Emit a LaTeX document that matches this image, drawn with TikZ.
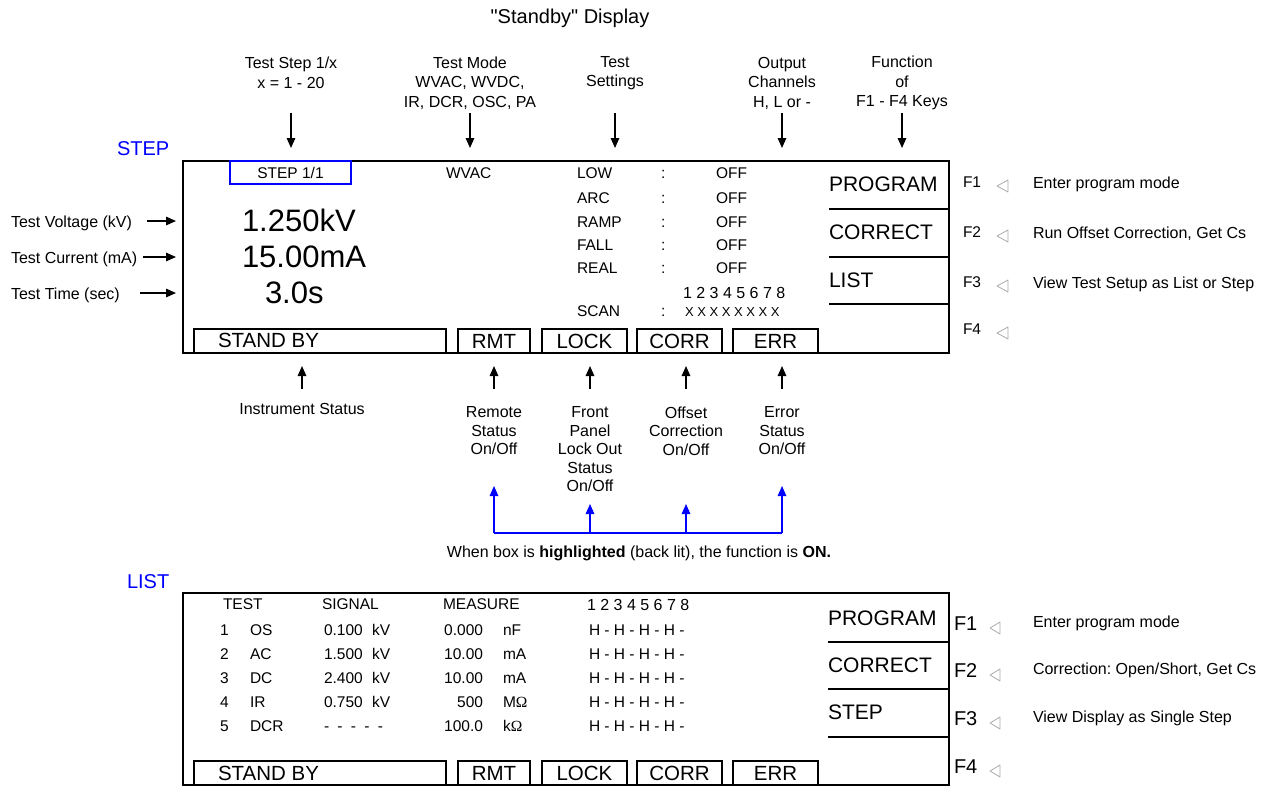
\documentclass[tikz,border=0pt]{standalone}
\usepackage{fontspec}
\setmainfont{Liberation Sans}
\newfontfamily\omfont{Liberation Serif}
\usetikzlibrary{arrows.meta}
\definecolor{pureblue}{RGB}{0,0,255}
\definecolor{trigray}{RGB}{170,170,170}
\newcommand\sq{\XeTeXglyph\XeTeXcharglyph"22\relax}
\frenchspacing
\begin{document}
\begin{tikzpicture}[x=1pt,y=-1pt,
  every node/.style={inner sep=0pt,outer sep=0pt},
  small/.style={font=\fontsize{16}{19.5}\selectfont,align=center},
  smallb/.style={font=\fontsize{16}{18.5}\selectfont,align=center},
  disp/.style={font=\fontsize{15.5}{18}\selectfont},
  digs/.style={font=\fontsize{16}{18}\selectfont},
  xs/.style={font=\fontsize{13}{15}\selectfont},
  big/.style={font=\fontsize{31}{36}\selectfont},
  keytxt/.style={font=\fontsize{21}{25}\selectfont},
  stat/.style={font=\fontsize{20.5}{24}\selectfont},
  headtxt/.style={font=\fontsize{20}{24}\selectfont,text=pureblue},
  fkey/.style={font=\fontsize{15.5}{18}\selectfont},
  fkeyb/.style={font=\fontsize{20}{24}\selectfont},
  frame/.style={draw,line width=1.6pt},
  sbox/.style={draw,line width=1.4pt,minimum height=24pt,anchor=north west},
  arr/.style={line width=1.5pt,-{Triangle[length=10pt,width=8.5pt]}},
  barr/.style={arr,draw=pureblue},
  tri/.style={draw=trigray,line width=0.8pt,line join=round}
]
\useasboundingbox (0,0) rectangle (1268,787);

% ---------- title and top labels ----------
\node[font=\fontsize{20}{24}\selectfont] (title) at (570,18) {\sq Standby\sq{} Display};
\node[small] (lStep) at (291,73) {Test Step 1/x\\x = 1 - 20};
\node[small] (lMode) at (470,83) {Test Mode\\WVAC, WVDC,\\IR, DCR, OSC, PA};
\node[small] (lSet)  at (615,73) {Test\\Settings};
\node[small] (lOut)  at (782,83) {Output\\Channels\\H, L or -};
\node[small] (lFun)  at (902,83) {Function\\of\\F1 - F4 Keys};
\foreach \i/\x in {1/291,2/470,3/615,4/782,5/902}{
  \coordinate (dt\i) at (\x,113);
  \coordinate (dh\i) at (\x,148);
  \draw[arr] (dt\i) -- (dh\i);
}

% ---------- STEP display ----------
\node[headtxt,anchor=base west] (hStep) at (117,155) {STEP};
\node[frame,anchor=north west,minimum width=766pt,minimum height=192pt] (stepdisp) at (183,161) {};
\node[draw=pureblue,line width=1.5pt,anchor=north west,minimum width=121pt,minimum height=23pt] (stepbox) at (230,161) {};
\node[disp,anchor=base] (stepnum) at (290.5,178) {STEP 1/1};

\node[small,anchor=base west] (lV) at (11,227) {Test Voltage (kV)};
\node[small,anchor=base west] (lC) at (11,263) {Test Current (mA)};
\node[small,anchor=base west] (lT) at (11,299) {Test Time (sec)};
\coordinate (aVt) at (147,221); \coordinate (aVh) at (176,221);
\coordinate (aCt) at (143,257); \coordinate (aCh) at (176,257);
\coordinate (aTt) at (140,293); \coordinate (aTh) at (176,293);
\draw[arr] (aVt) -- (aVh);
\draw[arr] (aCt) -- (aCh);
\draw[arr] (aTt) -- (aTh);

\node[big,anchor=base west] (vV) at (242,231) {1.250kV};
\node[big,anchor=base west] (vC) at (242,267) {15.00mA};
\node[big,anchor=base west] (vT) at (265,303) {3.0s};

\node[disp,anchor=base west] (mode) at (446,178) {WVAC};
\foreach \i/\n/\y in {1/LOW/178,2/ARC/203,3/RAMP/227,4/FALL/250,5/REAL/273}{
  \node[disp,anchor=base west] (sn\i) at (577,\y) {\n};
  \node[disp,anchor=base west] (sc\i) at (661,\y) {:};
  \node[disp,anchor=base west] (sv\i) at (716,\y) {OFF};
}
\node[digs,anchor=base west] (chn) at (683,298) {1 2 3 4 5 6 7 8};
\node[disp,anchor=base west] (scan) at (577,316) {SCAN};
\node[disp,anchor=base west] (scanc) at (661,316) {:};
\node[xs,anchor=base west] (scanx) at (685,316) {X X X X X X X X};

% key column (STEP)
\node[keytxt,anchor=base west] (kP1) at (829,191) {PROGRAM};
\node[keytxt,anchor=base west] (kC1) at (829,239) {CORRECT};
\node[keytxt,anchor=base west] (kL1) at (829,287) {LIST};
\foreach \y in {209,257,304}{ \draw[line width=1.6pt] (829,\y) -- (949,\y); }

% F keys (STEP)
\foreach \i/\y/\d in {1/187/Enter program mode,2/237/{Run Offset Correction, Get Cs},3/287/View Test Setup as List or Step,4/334/{}}{
  \node[fkey,anchor=base west] (uf\i) at (963,\y) {F\i};
  \draw[tri] (1008,\y-7) -- (997,\y-1) -- (1008,\y+5) -- cycle;
  \node[small,anchor=base west] (ud\i) at (1033,\y+1) {\d};
}

% status boxes (STEP)
\node[sbox,minimum width=252pt] (u1) at (194,329) {};
\node[stat,anchor=base west] (u1t) at (218,347) {STAND BY};
\node[sbox,stat,minimum width=72pt] (u2) at (458,329) {RMT};
\node[sbox,stat,minimum width=85pt] (u3) at (542,329) {LOCK};
\node[sbox,stat,minimum width=85pt] (u4) at (637,329) {CORR};
\node[sbox,stat,minimum width=85pt] (u5) at (733,329) {ERR};

% arrows up and labels
\foreach \i/\x in {1/302,2/494,3/590,4/686,5/782}{
  \coordinate (ut\i) at (\x,389);
  \coordinate (uh\i) at (\x,366);
  \draw[arr] (ut\i) -- (uh\i);
}
\node[small] (bI) at (302,409) {Instrument Status};
\node[smallb] (bR) at (494,431) {Remote\\Status\\On/Off};
\node[smallb] (bF) at (590,449.5) {Front\\Panel\\Lock Out\\Status\\On/Off};
\node[smallb] (bO) at (686,431) {Offset\\Correction\\On/Off};
\node[smallb] (bE) at (782,431) {Error\\Status\\On/Off};

% blue bracket
\coordinate (q1) at (494,533); \coordinate (q2) at (590,533);
\coordinate (q3) at (686,533); \coordinate (q4) at (782,533);
\coordinate (p1) at (494,486); \coordinate (p2) at (590,504);
\coordinate (p3) at (686,504); \coordinate (p4) at (782,486);
\draw[pureblue,line width=1.5pt] (q1) -- (q4);
\draw[barr] (q1) -- (p1);
\draw[barr] (q2) -- (p2);
\draw[barr] (q3) -- (p3);
\draw[barr] (q4) -- (p4);
\node[small,anchor=base] (note) at (639,557) {When box is \textbf{highlighted} (back lit), the function is \textbf{ON.}};

% ---------- LIST display ----------
\node[headtxt,anchor=base west] (hList) at (127,588) {LIST};
\node[frame,anchor=north west,minimum width=766pt,minimum height=192pt] (listdisp) at (183,593) {};

\node[disp,anchor=base west] (cTest) at (223,609) {TEST};
\node[disp,anchor=base west] (cSig) at (322,609) {SIGNAL};
\node[disp,anchor=base west] (cMeas) at (443,609) {MEASURE};
\node[digs,anchor=base west] (cCh) at (587,610) {1 2 3 4 5 6 7 8};

\foreach \i/\t/\s/\u/\m/\mu/\y in {1/OS/0.100/kV/0.000/nF/635,2/AC/1.500/kV/10.00/mA/659,3/DC/2.400/kV/10.00/mA/683,4/IR/0.750/kV/500/{M{\omfont Ω}}/707,5/DCR/{}/{}/100.0/{k{\omfont Ω}}/731}{
  \node[disp,anchor=base west] (rn\i) at (220,\y) {\i};
  \node[disp,anchor=base west] (rt\i) at (250,\y) {\t};
  \node[disp,anchor=base west] (rs\i) at (324,\y) {\s};
  \node[disp,anchor=base west] (ru\i) at (372,\y) {\u};
  \node[disp,anchor=base east] (rm\i) at (483,\y) {\m};
  \node[disp,anchor=base west] (rmu\i) at (503,\y) {\mu};
  \node[disp,anchor=base west] (rh\i) at (589,\y) {H - H - H - H -};
}
\node[disp,anchor=base west] (rdash) at (324,731) {-\hspace{8.3pt}-\hspace{8.3pt}-\hspace{8.3pt}-\hspace{8.3pt}-};

% key column (LIST)
\node[keytxt,anchor=base west] (kP2) at (828,625) {PROGRAM};
\node[keytxt,anchor=base west] (kC2) at (828,672) {CORRECT};
\node[keytxt,anchor=base west] (kS2) at (828,719) {STEP};
\foreach \y in {642,689,737}{ \draw[line width=1.6pt] (828,\y) -- (949,\y); }

\foreach \i/\y/\d in {1/630/Enter program mode,2/677/{Correction: Open/Short, Get Cs},3/725/View Display as Single Step,4/773/{}}{
  \node[fkeyb,anchor=base west] (lf\i) at (954,\y) {F\i};
  \draw[tri] (1000,\y-8) -- (990,\y-2) -- (1000,\y+4) -- cycle;
  \node[small,anchor=base west] (ld\i) at (1033,\y-3) {\d};
}

% status boxes (LIST)
\node[sbox,minimum width=252pt] (w1) at (194,761) {};
\node[stat,anchor=base west] (w1t) at (218,780) {STAND BY};
\node[sbox,stat,minimum width=72pt] (w2) at (458,761) {RMT};
\node[sbox,stat,minimum width=85pt] (w3) at (542,761) {LOCK};
\node[sbox,stat,minimum width=85pt] (w4) at (637,761) {CORR};
\node[sbox,stat,minimum width=85pt] (w5) at (733,761) {ERR};

\end{tikzpicture}
\end{document}
